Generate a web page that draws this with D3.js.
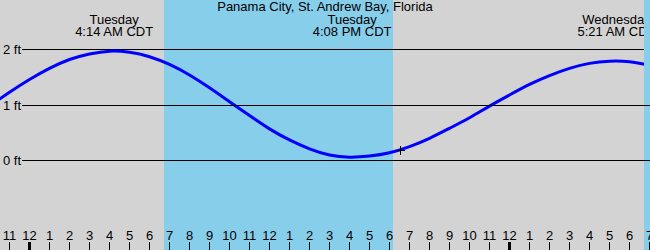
<!DOCTYPE html>
<html>
<head>
<meta charset="utf-8">
<script src="https://cdn.jsdelivr.net/npm/d3@7"></script>
<style>
  html, body { margin: 0; padding: 0; background: #d3d3d3; }
  svg { display: block; }
  text { font-family: "Liberation Sans", Arial, sans-serif; font-size: 13px; fill: #000; }
</style>
</head>
<body>
<svg id="chart" width="650" height="250"></svg>
<script>
// ---- data (hours measured from Tuesday 00:00 local time) ----
const title = "Panama City, St. Andrew Bay, Florida";
const hours = [-2,-1,0,1,2,3,4,5,6,7,8,9,10,11,12,13,14,15,16,17,18,19,20,21,22,23,24,25,26,27,28,29,30,31];
const heights = [0.98,1.23,1.46,1.66,1.82,1.92,1.97,1.95,1.87,1.73,1.54,1.31,1.06,0.81,0.57,0.37,0.21,0.10,0.06,0.08,0.14,0.25,0.40,0.58,0.77,0.98,1.18,1.37,1.53,1.66,1.75,1.79,1.78,1.72];
const eventHours = [4.233, 16.133, 29.35];
const eventDays = ["Tuesday", "Tuesday", "Wednesday"];
const eventTimes = ["4:14 AM CDT", "4:08 PM CDT", "5:21 AM CDT"];
const sunrise = [6.725, 30.725];
const sunset = [18.175, 42.2];
const nowHour = 18.525;
const nowHeight = 0.196;
const yTicks = [0, 1, 2];
const yTickLabels = ["0 ft", "1 ft", "2 ft"];
const hourTicks = d3.range(-1, 32);

// ---- layout ----
const W = 650, H = 250;
const svg = d3.select("#chart");
const x = d3.scaleLinear().domain([-1.475, 31.025]).range([0, W]);
const y = d3.scaleLinear().domain([0, 2]).range([160.5, 49.5]);
const crisp = v => Math.floor(v) + 0.5;

svg.append("rect").attr("width", W).attr("height", H).attr("fill", "#d3d3d3");

const bandColor = "#87ceeb";
function band(i) {
  return svg.append("rect")
    .attr("x", Math.round(x(sunrise[i])))
    .attr("y", 0)
    .attr("width", Math.max(0, Math.min(W, Math.round(x(sunset[i]))) - Math.round(x(sunrise[i]))))
    .attr("height", H)
    .attr("fill", bandColor);
}
band(0);

// grid lines
const grid = svg.append("g");
yTicks.forEach((v, i) => {
  grid.append("line")
    .attr("class", "g" + v)
    .attr("x1", 22).attr("x2", W)
    .attr("y1", crisp(y(v))).attr("y2", crisp(y(v)))
    .attr("stroke", "#000").attr("stroke-width", 1);
  svg.append("text")
    .attr("x", 3).attr("y", crisp(y(v)) + 4.5)
    .text(yTickLabels[i]);
});

// tide curve
const line = d3.line()
  .x((d, i) => x(hours[i]))
  .y(d => y(d))
  .curve(d3.curveNatural);
svg.append("path")
  .datum(heights)
  .attr("d", line)
  .attr("fill", "none")
  .attr("stroke", "#0000ff")
  .attr("stroke-width", 3);

// event labels
eventHours.forEach((h, i) => {
  svg.append("text").attr("x", x(h)).attr("y", 24).attr("text-anchor", "middle").text(eventDays[i]);
  svg.append("text").attr("x", x(h)).attr("y", 36).attr("text-anchor", "middle").text(eventTimes[i]);
});

// second daylight band sits on top of the curve & labels at the right edge
band(1);
// lower grid lines stay on top
grid.selectAll("line.g0, line.g1").raise();
svg.node().appendChild(grid.select("line.g0").node());
svg.node().appendChild(grid.select("line.g1").node());

// title
svg.append("text").attr("x", W / 2).attr("y", 11).attr("text-anchor", "middle").text(title);

// current time marker
const mx = Math.round(x(nowHour)), my = Math.round(y(nowHeight));
svg.append("line").attr("x1", mx - 4).attr("x2", mx + 5).attr("y1", my + 0.5).attr("y2", my + 0.5).attr("stroke", "#000");
svg.append("line").attr("x1", mx + 0.5).attr("x2", mx + 0.5).attr("y1", my - 4).attr("y2", my + 5).attr("stroke", "#000");

// hour axis
const ax = svg.append("g");
hourTicks.forEach(h => {
  const px = crisp(x(h));
  const mid = ((h % 24) + 24) % 24 === 0;
  ax.append("line")
    .attr("x1", px).attr("x2", px)
    .attr("y1", 242).attr("y2", H)
    .attr("stroke", "#000")
    .attr("stroke-width", mid ? 3 : 1);
  const lab = ((h % 12) + 12) % 12 || 12;
  ax.append("text").attr("x", px).attr("y", 240).attr("text-anchor", "middle").text(lab);
});
</script>
</body>
</html>
